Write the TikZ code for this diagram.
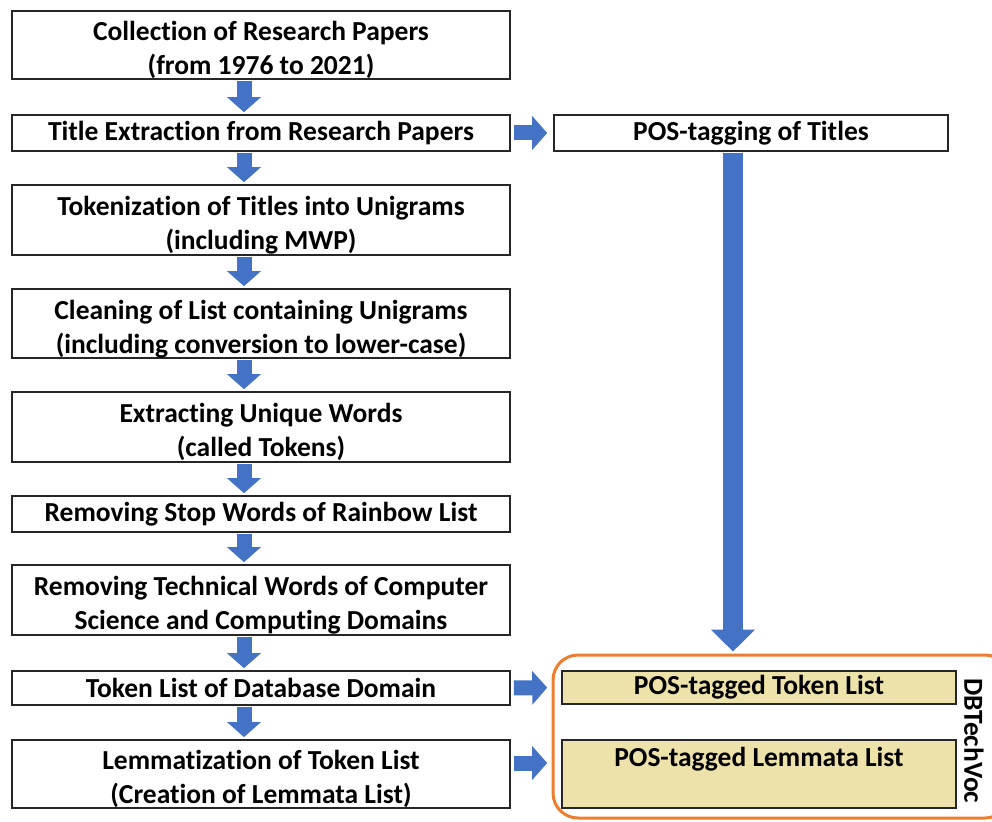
\documentclass[tikz,border=0pt]{standalone}
\usepackage{fontspec}
\setmainfont{Carlito}[Ligatures=NoCommon]
\usetikzlibrary{arrows.meta}
\definecolor{arrowblue}{RGB}{68,114,196}
\definecolor{frameorange}{RGB}{237,125,49}
\definecolor{tagfill}{RGB}{237,226,170}
\newcommand{\topstrut}{\rule{0pt}{30pt}}

\begin{document}
\begin{tikzpicture}[x=1pt,y=-1pt,
  procbox/.style={draw=black!85, line width=1.6pt, inner sep=0pt, minimum width=498pt,
    align=center, font=\fontsize{27.5}{34}\selectfont\bfseries},
  tagbox/.style={procbox, fill=tagfill, minimum width=394pt},
  flowarrow/.style={draw=arrowblue, line width=15pt, shorten <=1pt, shorten >=2pt,
    -{Triangle[width=33pt,length=15pt]}}]
\useasboundingbox (0,0) rectangle (992,821);

% main column
\node[procbox, minimum height=68pt] (coll) at (261,45) {\topstrut Collection of Research Papers\\(from 1976 to 2021)};
\node[procbox, minimum height=36pt] (title) at (261,133) {Title Extraction from Research Papers};
\node[procbox, minimum height=70pt] (token) at (261,220) {\topstrut Tokenization of Titles into Unigrams\\(including MWP)};
\node[procbox, minimum height=69pt] (clean) at (261,323.5) {\topstrut Cleaning of List containing Unigrams\\(including conversion to lower-case)};
\node[procbox, minimum height=70pt] (uniq) at (261,427) {\topstrut Extracting Unique Words\\(called Tokens)};
\node[procbox, minimum height=36pt] (stop) at (261,514) {Removing Stop Words of Rainbow List};
\node[procbox, minimum height=70pt] (tech) at (261,600) {\topstrut Removing Technical Words of Computer\\Science and Computing Domains};
\node[procbox, minimum height=34pt] (toklist) at (261,688) {Token List of Database Domain};
\node[procbox, minimum height=68pt] (lemma) at (261,774) {\topstrut Lemmatization of Token List\\(Creation of Lemmata List)};

% right column
\node[procbox, minimum width=394pt, minimum height=36pt] (pos) at (751,133) {POS-tagging of Titles};
\node[draw=frameorange, line width=3pt, rounded corners=25pt, minimum width=457pt, minimum height=163pt] (dbvoc) at (781.5,736.5) {};
\node[tagbox, minimum height=33pt] (postok) at (759,687.5) {POS-tagged Token List};
\node[tagbox, minimum height=68pt] (poslem) at (759,774) {POS-tagged Lemmata List\\\mbox{}};
\node[rotate=-90, font=\fontsize{27.5}{34}\selectfont\bfseries] (dbname) at (974,741) {DBTechVoc};

% arrows
\draw[flowarrow] ([xshift=-17pt]coll.south) -- ([xshift=-17pt]title.north);
\draw[flowarrow] ([xshift=-17pt]title.south) -- ([xshift=-17pt]token.north);
\draw[flowarrow] ([xshift=-17pt]token.south) -- ([xshift=-17pt]clean.north);
\draw[flowarrow] ([xshift=-17pt]clean.south) -- ([xshift=-17pt]uniq.north);
\draw[flowarrow] ([xshift=-17pt]uniq.south) -- ([xshift=-17pt]stop.north);
\draw[flowarrow] ([xshift=-17pt]stop.south) -- ([xshift=-17pt]tech.north);
\draw[flowarrow] ([xshift=-17pt]tech.south) -- ([xshift=-17pt]toklist.north);
\draw[flowarrow] ([xshift=-17pt]toklist.south) -- ([xshift=-17pt]lemma.north);

\draw[flowarrow, shorten <=3pt, shorten >=6pt] (title.east) -- (pos.west);
\draw[flowarrow, shorten <=3pt, shorten >=14pt] (toklist.east) -- (postok.west);
\draw[flowarrow, shorten <=3pt, shorten >=14pt] ([yshift=11pt]lemma.east) -- ([yshift=11pt]poslem.west);
\draw[flowarrow, line width=20pt, -{Triangle[width=43pt,length=22pt]}]
  ([xshift=-18pt]pos.south) -- ([xshift=-18pt]pos.south |- dbvoc.north);
\end{tikzpicture}
\end{document}
